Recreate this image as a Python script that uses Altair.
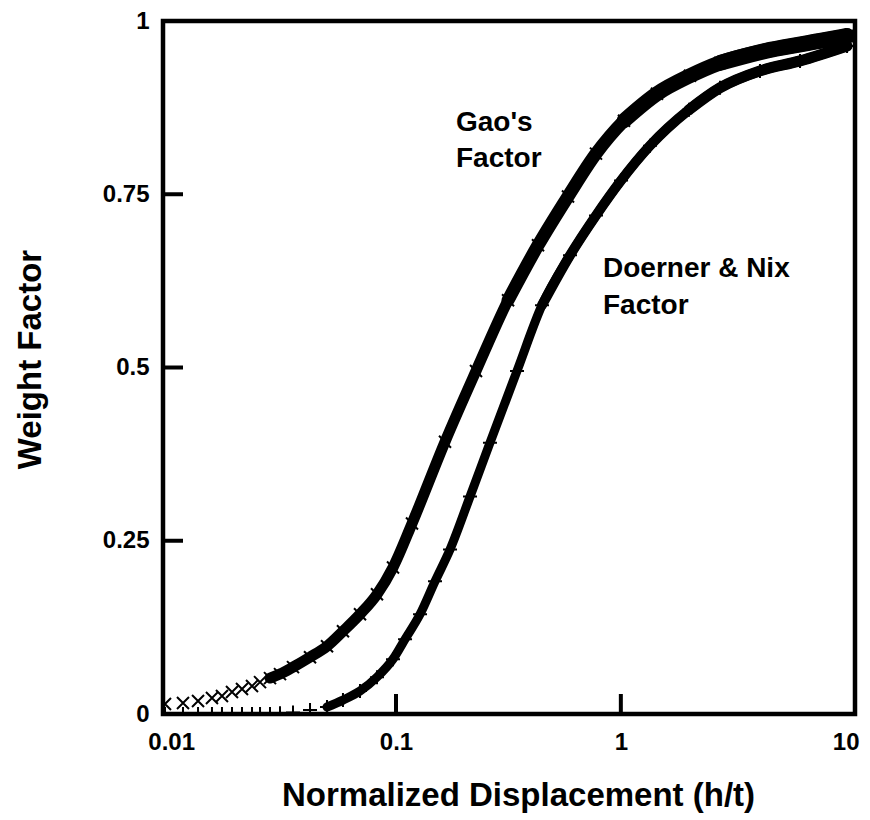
import altair as alt
import pandas as pd

# ---- data ----
GAO_X = [0.00939, 0.01129, 0.01317, 0.01519, 0.01683, 0.01865, 0.02066, 0.02289,
         0.02485, 0.02752, 0.03049, 0.03483, 0.04146, 0.04934, 0.0581, 0.06917,
         0.08231, 0.09698, 0.1178, 0.1652, 0.2269, 0.315, 0.4281, 0.5821, 0.7753,
         1.033, 1.448, 2.03, 2.761, 4.607, 7.688, 10.14]
GAO_Y = [0.0144, 0.0158, 0.0187, 0.0230, 0.0259, 0.0317, 0.0360, 0.0403,
         0.0460, 0.0518, 0.0576, 0.0676, 0.0820, 0.0978, 0.1194, 0.1439,
         0.1727, 0.2115, 0.2748, 0.3928, 0.4950, 0.5971, 0.6763, 0.7468, 0.8086,
         0.8561, 0.8950, 0.9209, 0.9396, 0.9583, 0.9712, 0.9784]

DN_X = [0.00939, 0.01129, 0.01317, 0.01519, 0.01683, 0.01865, 0.02066, 0.02289,
        0.02485, 0.02752, 0.03049, 0.03483, 0.04146, 0.04934, 0.0581, 0.06917,
        0.08231, 0.09698, 0.1097, 0.1279, 0.1491, 0.1739, 0.2134, 0.2618, 0.3453,
        0.446, 0.5941, 0.7753, 1.002, 1.348, 2.01, 2.761, 4.157, 6.264, 10.14]
DN_Y = [0, 0, 0, 0, 0, 0, 0, 0,
        0, 0, 0.001, 0.002, 0.0058, 0.0101, 0.0201, 0.0331,
        0.0532, 0.0791, 0.1079, 0.1439, 0.1914, 0.2374, 0.3137, 0.3914, 0.4950,
        0.5899, 0.6619, 0.7194, 0.7698, 0.8201, 0.8719, 0.9036, 0.9280, 0.9424, 0.9640]

X_LABEL_VALUES = [0.01, 0.1, 1, 10]
Y_LABEL_VALUES = [0, 0.25, 0.5, 0.75, 1]
X_INNER_TICKS = [0.1, 1]
Y_INNER_TICKS = [0.25, 0.5, 0.75]

GAO_LABEL = ["Gao's", "Factor"]
DN_LABEL = ["Doerner & Nix", "Factor"]
X_TITLE = "Normalized Displacement (h/t)"
Y_TITLE = "Weight Factor"

gao = pd.DataFrame({"h": GAO_X, "w": GAO_Y})
dn = pd.DataFrame({"h": DN_X, "w": DN_Y})

FONT = "Liberation Sans"
W, H = 692, 693

xscale = alt.Scale(type="log", domain=[0.0092, 11])
yscale = alt.Scale(domain=[0, 1], nice=False, zero=False)

common_axis = dict(ticks=False, tickSize=0, domain=False, grid=False,
                   labelFont=FONT, labelFontSize=24, labelFontWeight="bold",
                   labelColor="black", labelFlush=False, labelOverlap=False,
                   titleFont=FONT, titleFontWeight="bold", titleColor="black")

xaxis = alt.Axis(values=X_LABEL_VALUES, format=".2~f", title=X_TITLE,
                 labelPadding=16, titleFontSize=33, titleX=355, titleY=91,
                 titleAlign="center", titleBaseline="alphabetic", **common_axis)
yaxis = alt.Axis(values=Y_LABEL_VALUES, format=".2~f", title=Y_TITLE,
                 labelPadding=14, titleFontSize=33, titleAngle=270,
                 titleX=-123, titleY=338, titleAlign="center",
                 titleBaseline="alphabetic", **common_axis)

X = alt.X("h:Q", scale=xscale, axis=xaxis)
Y = alt.Y("w:Q", scale=yscale, axis=yaxis)

XSHAPE = "M-1,-1L1,1M-1,1L1,-1"
PLUS = "M-1,0L1,0M0,-1L0,1"


def band(df, start, width):
    return alt.Chart(df).transform_filter(alt.datum.h >= start).mark_line(
        color="black", strokeWidth=width, interpolate="monotone",
        strokeCap="round", strokeJoin="round", clip=True).encode(x=X, y=Y)


gao_bands = [band(gao, 0.025, 11), band(gao, 0.25, 13), band(gao, 0.9, 15),
             band(gao, 2.5, 16)]
dn_bands = [band(dn, 0.045, 9), band(dn, 0.4, 10), band(dn, 2.0, 11)]

gao_pts = alt.Chart(gao).mark_point(
    shape=XSHAPE, filled=False, color="black", strokeWidth=2, size=144,
    opacity=1, clip=True).encode(x=X, y=Y)
dn_pts = alt.Chart(dn).mark_point(
    shape=PLUS, filled=False, color="black", strokeWidth=2, size=196,
    opacity=1, clip=True).encode(x=X, y=Y)

xticks = alt.Chart(pd.DataFrame({"h": X_INNER_TICKS})).mark_rule(
    color="black", strokeWidth=4).encode(x=X, y=alt.value(H), y2=alt.value(H - 20))
yticks = alt.Chart(pd.DataFrame({"w": Y_INNER_TICKS})).mark_rule(
    color="black", strokeWidth=4).encode(y=Y, x=alt.value(0), x2=alt.value(20))

one = pd.DataFrame({"k": [0]})
gao_txt = alt.Chart(one).mark_text(
    align="left", baseline="top", font=FONT, fontSize=28, fontWeight="bold",
    lineHeight=36, color="black").encode(
    x=alt.value(293), y=alt.value(88), text=alt.value(GAO_LABEL))
dn_txt = alt.Chart(one).mark_text(
    align="left", baseline="top", font=FONT, fontSize=28, fontWeight="bold",
    lineHeight=37, color="black").encode(
    x=alt.value(440), y=alt.value(234), text=alt.value(DN_LABEL))

chart = alt.layer(
    *gao_bands, gao_pts, *dn_bands, dn_pts, xticks, yticks, gao_txt, dn_txt
).properties(
    width=W, height=H,
    autosize=alt.AutoSizeParams(type="none"),
    padding={"left": 163, "top": 21, "right": 15, "bottom": 106},
    background="white",
).configure(font=FONT).configure_axis(
    labelFont=FONT, titleFont=FONT
).configure_view(stroke="black", strokeWidth=4.5, fill="white")

chart.save("out.html", embed_options={"renderer": "svg", "actions": False})
